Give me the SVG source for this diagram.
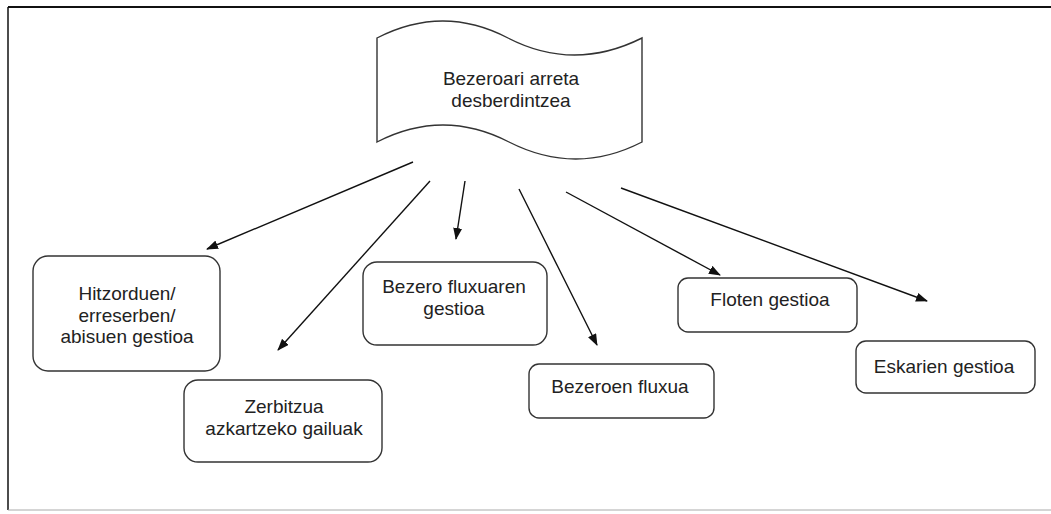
<svg xmlns="http://www.w3.org/2000/svg" width="1051" height="514" viewBox="0 0 1051 514">
  <style>
    .box { fill: #ffffff; stroke: #333333; stroke-width: 1.4; }
    .lbl { font-family: "Liberation Sans", Arial, sans-serif; font-size: 19px; fill: #222222; text-anchor: middle; }
    .edge { fill: none; stroke: #111111; stroke-width: 1.4; marker-end: url(#arrow); }
  </style>
  <defs>
    <marker id="arrow" markerUnits="userSpaceOnUse" markerWidth="12" markerHeight="9" refX="11" refY="4.5" orient="auto">
      <path d="M0,0 L12,4.5 L0,9 Z" fill="#111111"/>
    </marker>
  </defs>

  <rect x="0" y="0" width="1051" height="514" fill="#ffffff"/>

  <!-- page frame -->
  <g id="frame">
    <line x1="8" y1="7" x2="1051" y2="7" stroke="#111111" stroke-width="2"/>
    <line x1="8" y1="7" x2="8" y2="510" stroke="#111111" stroke-width="1.5"/>
    <line x1="8" y1="510" x2="1051" y2="510" stroke="#aaaaaa" stroke-width="1"/>
  </g>

  <!-- connectors -->
  <g id="connectors">
    <line class="edge" x1="413" y1="162" x2="207" y2="249"/>
    <line class="edge" x1="430" y1="181" x2="278" y2="350"/>
    <line class="edge" x1="465" y1="181" x2="456" y2="239"/>
    <line class="edge" x1="519" y1="189" x2="597" y2="345"/>
    <line class="edge" x1="566" y1="192" x2="720" y2="275"/>
    <line class="edge" x1="621" y1="188" x2="927" y2="301"/>
  </g>

  <!-- central tape shape -->
  <g id="node-root">
    <path class="box" d="M377,38 Q443,4 508,38 Q574,72 642,38 L642,142 Q576,176 509,142 Q443,108 377,142 Z"/>
    <text class="lbl" x="511" y="85">Bezeroari arreta</text>
    <text class="lbl" x="511" y="107">desberdintzea</text>
  </g>

  <g id="node-hitzorduen">
    <rect class="box" x="33" y="256" width="187" height="115" rx="15"/>
    <text class="lbl" x="127" y="300">Hitzorduen/</text>
    <text class="lbl" x="127" y="322">erreserben/</text>
    <text class="lbl" x="127" y="343">abisuen gestioa</text>
  </g>

  <g id="node-zerbitzua">
    <rect class="box" x="184" y="380" width="198" height="82" rx="14"/>
    <text class="lbl" x="284" y="413">Zerbitzua</text>
    <text class="lbl" x="284" y="435">azkartzeko gailuak</text>
  </g>

  <g id="node-bezero-fluxuaren">
    <rect class="box" x="363" y="262" width="184" height="83" rx="14"/>
    <text class="lbl" x="454" y="293">Bezero fluxuaren</text>
    <text class="lbl" x="454" y="315">gestioa</text>
  </g>

  <g id="node-bezeroen-fluxua">
    <rect class="box" x="529" y="364" width="185" height="54" rx="10"/>
    <text class="lbl" x="620" y="393">Bezeroen fluxua</text>
  </g>

  <g id="node-floten">
    <rect class="box" x="678" y="278" width="179" height="54" rx="10"/>
    <text class="lbl" x="770" y="306">Floten gestioa</text>
  </g>

  <g id="node-eskarien">
    <rect class="box" x="856" y="341" width="179" height="52" rx="10"/>
    <text class="lbl" x="944" y="373">Eskarien gestioa</text>
  </g>
</svg>
